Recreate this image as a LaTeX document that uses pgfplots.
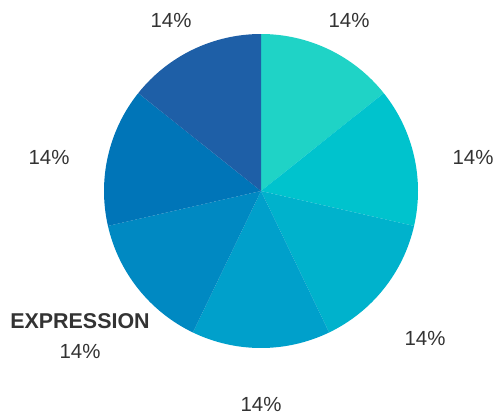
\documentclass[border=0pt]{standalone}
\usepackage{pgfplots}
\usepackage{pgfplotstable}
\pgfplotsset{compat=1.18}
\usepackage{fontspec}
\setmainfont{Liberation Sans}
\definecolor{pie0}{RGB}{31,211,198}
\definecolor{pie1}{RGB}{0,195,205}
\definecolor{pie2}{RGB}{0,178,204}
\definecolor{pie3}{RGB}{0,160,203}
\definecolor{pie4}{RGB}{0,137,194}
\definecolor{pie5}{RGB}{0,117,184}
\definecolor{pie6}{RGB}{30,95,167}
\definecolor{txt}{RGB}{51,51,51}
\pgfplotstableread{
value
14.2857
14.2857
14.2857
14.2857
14.2857
14.2857
14.2857
}\piedata
\begin{document}
\begin{tikzpicture}
\def\cum{0}
\pgfplotstableforeachcolumnelement{value}\of\piedata\as\v{%
  \pgfmathsetmacro\a{90-3.6*\cum}%
  \pgfmathsetmacro\newcum{\cum+\v}%
  \pgfmathsetmacro\b{90-3.6*\newcum}%
  \expandafter\xdef\csname pieA\pgfplotstablerow\endcsname{\a}%
  \expandafter\xdef\csname pieB\pgfplotstablerow\endcsname{\b}%
  \xdef\cum{\newcum}%
}
\begin{axis}[
  x=1bp, y=1bp, xmin=0, xmax=495, ymin=0, ymax=415,
  hide axis, clip=false, scale only axis,
]
\pgfplotsinvokeforeach{0,...,6}{
  \fill[pie#1] (axis cs:261,224) -- (axis cs:{261+157*cos(\csname pieA#1\endcsname)},{224+157*sin(\csname pieA#1\endcsname)})
    arc[start angle=\csname pieA#1\endcsname, end angle=\csname pieB#1\endcsname, radius=157bp] -- cycle;
}
\path (axis cs:0,0) rectangle (axis cs:495,415);
\begin{scope}[every node/.style={text=txt, font=\fontsize{20.5}{24}\selectfont, inner sep=0pt}]
\node at (axis cs:349,395) {14\%};
\node at (axis cs:473,258) {14\%};
\node at (axis cs:425,77) {14\%};
\node at (axis cs:261,11) {14\%};
\node at (axis cs:80,64) {14\%};
\node[font=\fontsize{21.5}{24}\selectfont\bfseries] at (axis cs:80,94) {EXPRESSION};
\node at (axis cs:49,258) {14\%};
\node at (axis cs:171,395) {14\%};
\end{scope}
\end{axis}
\end{tikzpicture}
\end{document}
